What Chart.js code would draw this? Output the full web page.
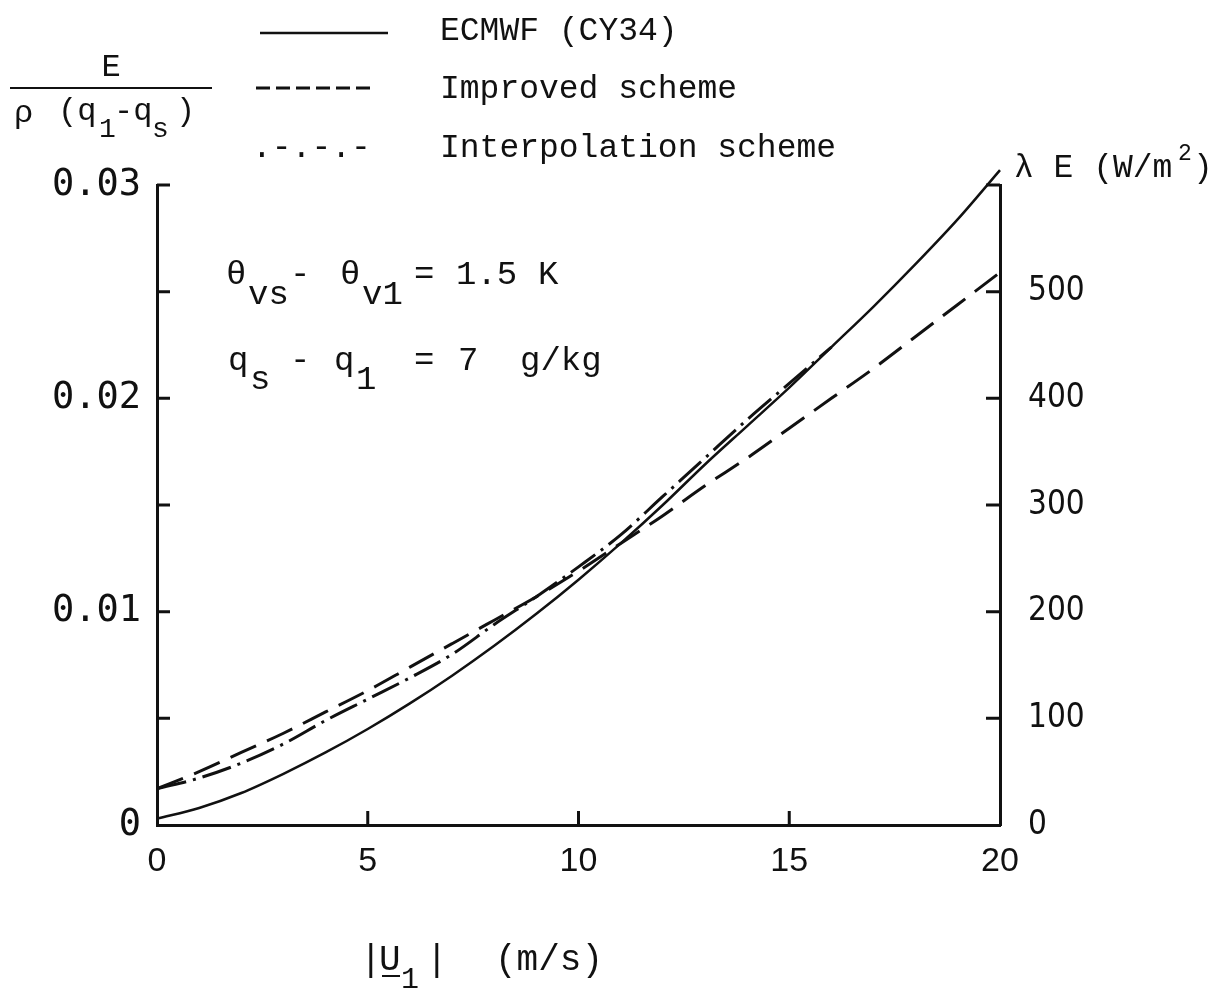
<!DOCTYPE html>
<html>
<head>
<meta charset="utf-8">
<script src="https://cdn.jsdelivr.net/npm/chart.js@4.4.0/dist/chart.umd.min.js"></script>
<style>
  html, body { margin: 0; padding: 0; background: #fff; }
  #chart { display: block; }
</style>
</head>
<body>
<canvas id="chart" width="1228" height="992"></canvas>
<script>
// wind speed |U1| (m/s)
const windSpeed = [0, 1, 2, 3, 4, 5, 6, 7, 8, 9, 10, 11, 12, 13, 14, 15, 16, 17, 18, 19, 20];
// E / (rho (q1 - qs))
const ecmwf = [0.0003, 0.0008, 0.0015, 0.0024, 0.0034, 0.0045, 0.0057, 0.0070, 0.0084, 0.0099, 0.0115,
               0.0132, 0.0150, 0.0169, 0.0187, 0.0205, 0.0224, 0.0243, 0.0263, 0.0284, 0.0307];
const improved = [0.0017, 0.0025, 0.0034, 0.0043, 0.0053, 0.0063, 0.0074, 0.0085, 0.0096, 0.0107, 0.0119,
                  0.0132, 0.0145, 0.0159, 0.0172, 0.0186, 0.0200, 0.0214, 0.0229, 0.0244, 0.0259];
const interpolation = [0.0017, 0.0022, 0.0029, 0.0038, 0.0049, 0.0059, 0.0069, 0.0080, 0.0094, 0.0107, 0.0121,
                       0.0136, 0.0154, 0.0172, 0.0190, 0.0207, 0.0224, null, null, null, null];

const xTicks = [0, 5, 10, 15, 20];
const leftTickLabels = ['0', '0.01', '0.02', '0.03'];
const rightTickLabels = ['0', '100', '200', '300', '400', '500'];

const MONO = '"Liberation Mono", "DejaVu Sans Mono", monospace';
const SANS_MONO = '"DejaVu Sans Mono", "Liberation Mono", monospace';
const NARROW = '"Liberation Sans Narrow", "DejaVu Sans Condensed", "Liberation Sans", sans-serif';
const SANS = '"Liberation Sans", "DejaVu Sans", sans-serif';
const INK = '#111';

function points(values) {
    const out = [];
    windSpeed.forEach(function(u, i) {
        if (values[i] !== null) out.push({ x: u, y: values[i] });
    });
    return out;
}

function drawParts(ctx, parts, size, family) {
    parts.forEach(function(p) {
        ctx.font = (p.size || size) + 'px ' + family;
        ctx.fillText(p.t, p.x, p.y);
    });
}

const decorations = {
    id: 'decorations',
    afterDraw(chart) {
        const ctx = chart.ctx;
        const xs = chart.scales.x, ys = chart.scales.y, y2 = chart.scales.y2;
        ctx.save();
        ctx.strokeStyle = INK;
        ctx.fillStyle = INK;
        ctx.lineCap = 'butt';

        // inward tick marks
        ctx.lineWidth = 3;
        ctx.beginPath();
        ys.ticks.forEach(function(t) {
            if (t.value <= 0) return;
            const py = ys.getPixelForValue(t.value);
            ctx.moveTo(xs.left, py); ctx.lineTo(xs.left + 13, py);
        });
        y2.ticks.forEach(function(t) {
            if (t.value <= 0) return;
            const py = y2.getPixelForValue(t.value);
            ctx.moveTo(xs.right, py); ctx.lineTo(xs.right - 14, py);
        });
        xs.ticks.forEach(function(t) {
            if (t.value <= 0 || t.value >= 20) return;
            const px = xs.getPixelForValue(t.value);
            ctx.moveTo(px, ys.bottom); ctx.lineTo(px, ys.bottom - 14);
        });
        ctx.stroke();

        // legend
        ctx.lineWidth = 2.5;
        ctx.beginPath();
        ctx.moveTo(260, 33); ctx.lineTo(388, 33);
        ctx.stroke();
        ctx.lineWidth = 3;
        ctx.setLineDash([14, 6]);
        ctx.beginPath();
        ctx.moveTo(256, 88); ctx.lineTo(372, 88);
        ctx.stroke();
        ctx.setLineDash([]);
        ctx.textBaseline = 'alphabetic';
        ctx.textAlign = 'left';
        drawParts(ctx, [
            { t: 'ECMWF (CY34)', x: 440, y: 40 },
            { t: 'Improved scheme', x: 440, y: 98 },
            { t: '.-.-.-', x: 252, y: 157 },
            { t: 'Interpolation scheme', x: 440, y: 157 }
        ], 33, MONO);

        // left axis title (fraction)
        ctx.textAlign = 'center';
        drawParts(ctx, [{ t: 'E', x: 111, y: 76 }], 32, MONO);
        ctx.textAlign = 'left';
        ctx.lineWidth = 2;
        ctx.beginPath();
        ctx.moveTo(10, 88); ctx.lineTo(212, 88);
        ctx.stroke();
        drawParts(ctx, [
            { t: '\u03c1', x: 14, y: 122 },
            { t: '(q', x: 58, y: 120 },
            { t: '1', x: 99, y: 137, size: 28 },
            { t: '-q', x: 114, y: 120 },
            { t: 's', x: 152, y: 137, size: 28 },
            { t: ')', x: 176, y: 120 }
        ], 32, MONO);

        // annotation
        drawParts(ctx, [
            { t: '\u03b8', x: 226, y: 284 },
            { t: 'vs', x: 248, y: 304 },
            { t: '-', x: 290, y: 284 },
            { t: '\u03b8', x: 340, y: 284 },
            { t: 'v1', x: 362, y: 304 },
            { t: '=', x: 414, y: 284 },
            { t: '1.5', x: 456, y: 284 },
            { t: 'K', x: 538, y: 284 },
            { t: 'q', x: 228, y: 370 },
            { t: 's', x: 250, y: 389 },
            { t: '-', x: 290, y: 370 },
            { t: 'q', x: 334, y: 370 },
            { t: '1', x: 356, y: 389 },
            { t: '=', x: 414, y: 370 },
            { t: '7', x: 458, y: 370 },
            { t: 'g/kg', x: 520, y: 370 }
        ], 34, MONO);

        // right axis title
        drawParts(ctx, [
            { t: '\u03bb E (W/m', x: 1014, y: 177 },
            { t: '2', x: 1178, y: 160, size: 23 },
            { t: ')', x: 1193, y: 177 }
        ], 33, MONO);

        // x axis title
        drawParts(ctx, [
            { t: '|', x: 360, y: 970 },
            { t: 'U', x: 379, y: 970 },
            { t: '1', x: 401, y: 988, size: 30 },
            { t: '|', x: 426, y: 970 },
            { t: '(m/s)', x: 495, y: 970 }
        ], 36, MONO);
        ctx.lineWidth = 2;
        ctx.beginPath();
        ctx.moveTo(382, 976); ctx.lineTo(400, 976);
        ctx.stroke();

        ctx.restore();
    }
};

document.addEventListener('DOMContentLoaded', function() {
    const ctx = document.getElementById('chart');

    new Chart(ctx, {
        type: 'line',
        data: {
            datasets: [
                {
                    label: 'ECMWF (CY34)',
                    data: points(ecmwf),
                    borderColor: INK,
                    borderWidth: 2.5,
                    clip: false
                },
                {
                    label: 'Improved scheme',
                    data: points(improved),
                    borderColor: INK,
                    borderWidth: 3,
                    borderDash: [28, 12]
                },
                {
                    label: 'Interpolation scheme',
                    data: points(interpolation),
                    borderColor: INK,
                    borderWidth: 3,
                    borderDash: [30, 7, 3, 7]
                }
            ]
        },
        options: {
            responsive: false,
            devicePixelRatio: 1,
            animation: false,
            elements: {
                point: { radius: 0 },
                line: { cubicInterpolationMode: 'monotone', fill: false }
            },
            layout: { padding: { top: 185, left: 0, right: 0, bottom: 0 } },
            plugins: {
                legend: { display: false },
                tooltip: { enabled: false }
            },
            scales: {
                x: {
                    type: 'linear',
                    min: 0,
                    max: 20,
                    afterBuildTicks: function(scale) {
                        scale.ticks = xTicks.map(function(v) { return { value: v }; });
                    },
                    grid: { display: false, drawTicks: false },
                    border: { display: true, color: INK, width: 3 },
                    ticks: {
                        autoSkip: false,
                        maxRotation: 0,
                        padding: 16,
                        color: INK,
                        font: { family: SANS, size: 34 },
                        callback: function(v) { return String(v); }
                    },
                    afterFit: function(scale) { scale.height = 167; }
                },
                y: {
                    type: 'linear',
                    position: 'left',
                    min: 0,
                    max: 0.03,
                    grid: { display: false, drawTicks: false },
                    border: { display: true, color: INK, width: 3 },
                    ticks: {
                        stepSize: 0.005,
                        autoSkip: false,
                        padding: 16,
                        color: INK,
                        font: { family: SANS_MONO, size: 37 },
                        callback: function(v) {
                            const k = Math.round(v * 100);
                            if (Math.abs(v * 100 - k) > 1e-6) return '';
                            return leftTickLabels[k] || '';
                        }
                    },
                    afterFit: function(scale) { scale.width = 157; }
                },
                y2: {
                    type: 'linear',
                    position: 'right',
                    min: 0,
                    max: 600,
                    grid: { display: false, drawTicks: false },
                    border: { display: true, color: INK, width: 3 },
                    ticks: {
                        stepSize: 100,
                        autoSkip: false,
                        padding: 28,
                        color: INK,
                        font: { family: NARROW, size: 33 },
                        callback: function(v) {
                            return rightTickLabels[Math.round(v / 100)] || '';
                        }
                    },
                    afterFit: function(scale) { scale.width = 228; }
                }
            }
        },
        plugins: [decorations]
    });
});
</script>
</body>
</html>
